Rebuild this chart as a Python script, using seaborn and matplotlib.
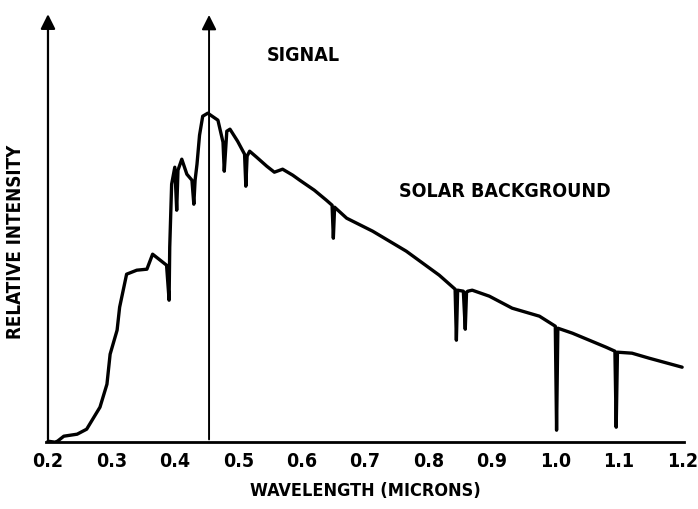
import numpy as np
import pandas as pd
import matplotlib
matplotlib.use("Agg")
import matplotlib.pyplot as plt
import seaborn as sns

# solar spectrum (relative units), narrow dips as spikes
wavelength = [0.200, 0.211, 0.215, 0.225, 0.246, 0.261, 0.282, 0.293, 0.298, 0.309,
              0.313, 0.324, 0.340, 0.356, 0.365, 0.381, 0.387, 0.391, 0.392, 0.395,
              0.400, 0.403, 0.405, 0.411, 0.419, 0.427, 0.430, 0.432, 0.435, 0.439,
              0.444, 0.452, 0.468, 0.476, 0.478, 0.482, 0.487, 0.499, 0.510, 0.512,
              0.514, 0.518, 0.529, 0.545, 0.557, 0.570, 0.586, 0.597, 0.620, 0.639,
              0.648, 0.650, 0.652, 0.671, 0.712, 0.765, 0.817, 0.842, 0.844, 0.846,
              0.855, 0.858, 0.860, 0.862, 0.869, 0.896, 0.932, 0.975, 1.000, 1.002,
              1.004, 1.027, 1.080, 1.094, 1.096, 1.098, 1.121, 1.148, 1.200]
intensity = [1, 0, 1, 6, 8, 13, 35, 58, 88, 112,
             135, 168, 172, 173, 188, 180, 177, 142, 195, 258,
             275, 232, 272, 283, 268, 262, 238, 262, 278, 307,
             326, 329, 322, 300, 271, 311, 313, 301, 288, 256,
             286, 291, 285, 276, 270, 273, 267, 262, 252, 242,
             237, 204, 235, 224, 211, 191, 167, 153, 102, 152,
             151, 113, 150, 151, 152, 146, 134, 126, 116, 12,
             114, 109, 95, 91, 15, 90, 89, 84, 75]

x_ticks = [0.2, 0.3, 0.4, 0.5, 0.6, 0.7, 0.8, 0.9, 1.0, 1.1, 1.2]
x_tick_labels = ["0.2", "0.3", "0.4", "0.5", "0.6", "0.7", "0.8", "0.9", "1.0", "1.1", "1.2"]
signal_wavelength = 0.454

df = pd.DataFrame({"wavelength": wavelength, "intensity": intensity})

sns.set_style("white")
plt.rcParams["font.family"] = ["DejaVu Sans"]
font = dict(fontweight="bold", fontstretch="condensed", color="black")

fig = plt.figure(figsize=(6.98, 5.10), dpi=100)
ax = fig.add_axes([0.066, 0.131, 0.914, 0.849])

sns.lineplot(data=df, x="wavelength", y="intensity", sort=False, estimator=None,
             color="black", linewidth=2.4, ax=ax)

ax.set_xlim(0.197, 1.203)
ax.set_ylim(0, 433)

# axes: bottom spine plus arrow for the intensity axis
for side in ["top", "right", "left"]:
    ax.spines[side].set_visible(False)
ax.spines["bottom"].set_linewidth(2)
ax.spines["bottom"].set_color("black")
ax.annotate("", xy=(0.003, 0.995), xytext=(0.003, 0.0),
            xycoords="axes fraction", textcoords="axes fraction",
            arrowprops=dict(arrowstyle="-|>", color="black", lw=1.6, mutation_scale=22))

# signal line
ax.annotate("", xy=(signal_wavelength, 430), xytext=(signal_wavelength, 0),
            arrowprops=dict(arrowstyle="-|>", color="black", lw=1.4, mutation_scale=22))

ax.set_xticks(x_ticks)
ax.set_xticklabels(x_tick_labels, fontsize=14, **font)
ax.set_yticks([])
ax.tick_params(axis="x", direction="in", length=14, width=1.5, pad=6, colors="black")

ax.set_xlabel("WAVELENGTH (MICRONS)", fontsize=13, labelpad=8, **font)
ax.set_ylabel("RELATIVE INTENSITY", fontsize=13.5, **font)
ax.yaxis.set_label_coords(-0.033, 0.465)

ax.text(0.602, 388, "SIGNAL", ha="center", va="center", fontsize=14, **font)
ax.text(0.92, 252, "SOLAR BACKGROUND", ha="center", va="center", fontsize=14, **font)

fig.savefig("out.png", dpi=100)
